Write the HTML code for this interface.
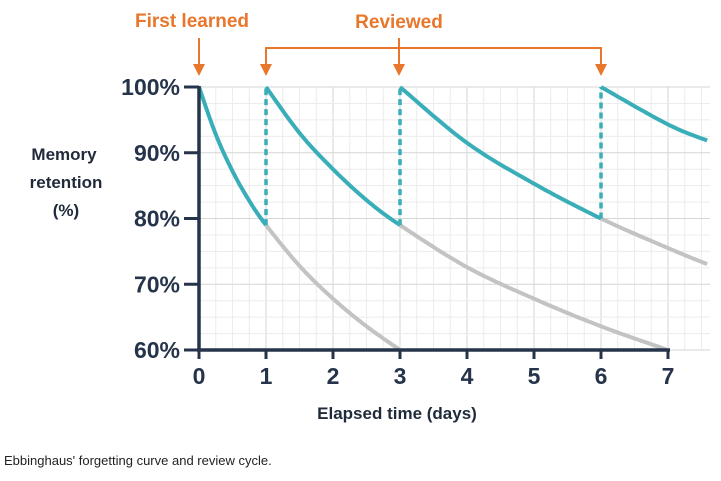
<!DOCTYPE html>
<html><head><meta charset="utf-8"><style>
body{margin:0;background:#fff;width:721px;height:476px;overflow:hidden}
svg text{font-family:"Liberation Sans",sans-serif}
</style></head><body>
<svg id="chart" width="721" height="476" viewBox="0 0 721 476" xmlns="http://www.w3.org/2000/svg">
<g id="grid"></g>
<g id="curves"></g>
<g id="axes"></g>
<g fill="#e8772b" stroke="#e8772b">
<text x="192" y="27" text-anchor="middle" font-size="19" font-weight="bold" stroke="none">First learned</text>
<text x="399" y="28" text-anchor="middle" font-size="19" font-weight="bold" stroke="none">Reviewed</text>
<line x1="199" y1="38" x2="199" y2="66" stroke-width="2"/>
<polygon points="193,64 205,64 199,76" stroke="none"/>
<polyline points="266,66 266,48 601,48 601,66" fill="none" stroke-width="2"/>
<line x1="399" y1="38" x2="399" y2="66" stroke-width="2"/>
<polygon points="260,64 272,64 266,76" stroke="none"/>
<polygon points="393,64 405,64 399,76" stroke="none"/>
<polygon points="595,64 607,64 601,76" stroke="none"/>
</g>
<g fill="#1f2a3a" font-size="17" font-weight="bold" text-anchor="middle">
<text x="64" y="160">Memory</text><text x="66" y="188">retention</text><text x="66" y="216">(%)</text>
</g>
<text x="397" y="419" text-anchor="middle" font-size="17" font-weight="bold" fill="#1f2a3a">Elapsed time (days)</text>
<text x="4" y="465" font-size="13" fill="#222">Ebbinghaus' forgetting curve and review cycle.</text>
</svg>
<script>
const xTicks=[0,1,2,3,4,5,6,7];
const yTicks=[60,70,80,90,100];
const reviewDays=[1,3,6];
const reviewLow=[79,79,80];
const c1Days=[0,0.25,0.5,0.75,1,1.5,2,2.5,3];
const c1Vals=[100,92.8,87.2,82.7,79,72.8,67.8,63.6,60];
const c2Days=[1,1.5,2,2.5,3,4,5,6,7];
const c2Vals=[100,93,87.5,82.8,79,72.6,67.8,63.6,60];
const c3Days=[3,4,5,6,7,7.6];
const c3Vals=[100,91.5,85.3,80,75.5,73];
const c4Days=[6,7,7.6];
const c4Vals=[100,94.3,91.8];
const c1Split=1,c2Split=3,c3Split=6;
const NS="http://www.w3.org/2000/svg";
const X=d=>199+d*67, Y=v=>87+(100-v)*6.575;
function mk(t,a,p){const e=document.createElementNS(NS,t);for(const k in a)e.setAttribute(k,a[k]);p.appendChild(e);return e;}
const grid=document.getElementById('grid'),axes=document.getElementById('axes'),curves=document.getElementById('curves');
for(let d=0;d<=7.6;d+=0.25){const l=mk('line',{x1:X(d),x2:X(d),y1:87,y2:350,stroke:Number.isInteger(d)?'#d6d6d6':'#ececec','stroke-width':1},grid);
}
for(let v=60;v<=100;v+=2.5){const l=mk('line',{x1:199,x2:710,y1:Y(v),y2:Y(v),stroke:v%10===0?'#d6d6d6':'#ececec','stroke-width':1},grid);
}
function path(ds,vs,lo,hi){const p=[];for(let i=0;i<ds.length;i++)p.push([X(ds[i]),Y(vs[i])]);
let pts=[];for(let i=0;i<p.length-1;i++){const p0=p[Math.max(0,i-1)],p1=p[i],p2=p[i+1],p3=p[Math.min(p.length-1,i+2)];
for(let t=0;t<=1;t+=0.05){const t2=t*t,t3=t2*t;
const x=0.5*(2*p1[0]+(-p0[0]+p2[0])*t+(2*p0[0]-5*p1[0]+4*p2[0]-p3[0])*t2+(-p0[0]+3*p1[0]-3*p2[0]+p3[0])*t3);
const y=0.5*(2*p1[1]+(-p0[1]+p2[1])*t+(2*p0[1]-5*p1[1]+4*p2[1]-p3[1])*t2+(-p0[1]+3*p1[1]-3*p2[1]+p3[1])*t3);
if(x>=X(lo)-0.5&&x<=X(hi)+0.5&&x<=712)pts.push(x.toFixed(1)+','+y.toFixed(1));}}
return pts.join(' ');}
function curve(ds,vs,split,name){
const g=mk('polyline',{points:path(ds,vs,split,99),fill:'none',stroke:'#c3c3c3','stroke-width':4,'stroke-linejoin':'round'},curves);

const t=mk('polyline',{points:path(ds,vs,ds[0],split),fill:'none',stroke:'#3aaeb8','stroke-width':4,'stroke-linejoin':'round'},curves);
}
curve(c1Days,c1Vals,c1Split,'curve-1');curve(c2Days,c2Vals,c2Split,'curve-2');curve(c3Days,c3Vals,c3Split,'curve-3');
const t4=mk('polyline',{points:path(c4Days,c4Vals,6,99),fill:'none',stroke:'#3aaeb8','stroke-width':4},curves);

reviewDays.forEach((d,i)=>{const l=mk('line',{x1:X(d),x2:X(d),y1:Y(reviewLow[i]),y2:Y(100),stroke:'#3aaeb8','stroke-width':3.5,'stroke-dasharray':'6,4'},curves);
});
const ya=mk('line',{x1:199,x2:199,y1:86,y2:351,stroke:'#25344a','stroke-width':3.5},axes);

const xa=mk('line',{x1:197,x2:670,y1:350,y2:350,stroke:'#25344a','stroke-width':3.5},axes);

yTicks.forEach(v=>{const l=mk('line',{x1:184,x2:199,y1:Y(v),y2:Y(v),stroke:'#25344a','stroke-width':3},axes);

const t=mk('text',{x:180,y:Y(v)+8,'text-anchor':'end','font-size':23,'font-weight':'bold',fill:'#25344a'},axes);t.textContent=v+'%';
});
xTicks.forEach(d=>{const l=mk('line',{x1:X(d),x2:X(d),y1:350,y2:359,stroke:'#25344a','stroke-width':3},axes);

const t=mk('text',{x:X(d),y:384,'text-anchor':'middle','font-size':23,'font-weight':'bold',fill:'#25344a'},axes);t.textContent=d;
});
</script>
</body></html>
